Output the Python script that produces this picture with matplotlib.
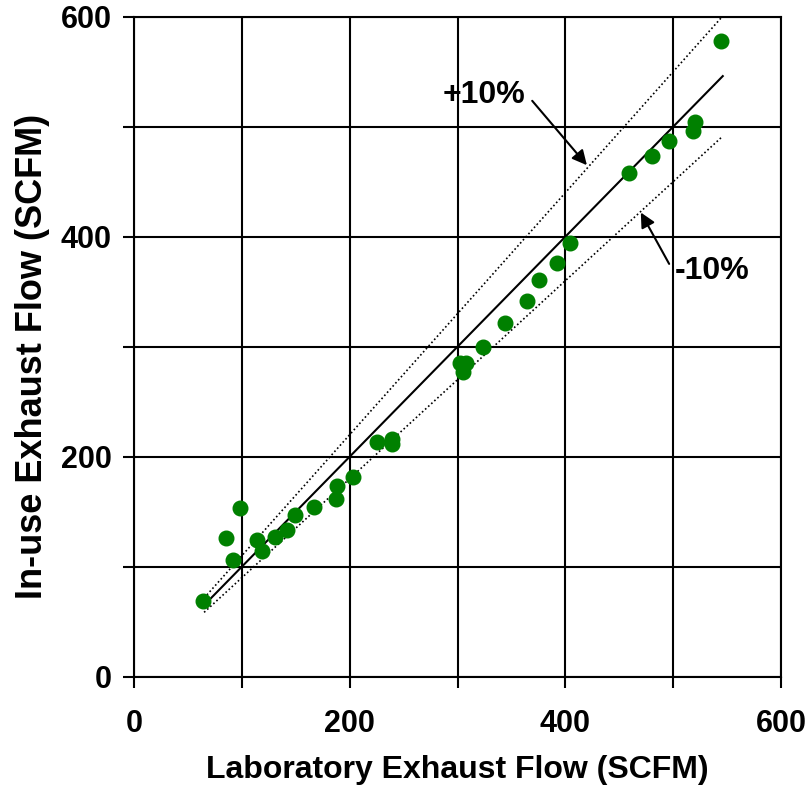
import matplotlib
matplotlib.use("Agg")
import matplotlib.pyplot as plt
import numpy as np

plt.rcParams['font.family'] = ['Liberation Sans', 'DejaVu Sans']
plt.rcParams['font.weight'] = 'bold'

lab_flow = [64, 85, 98, 92, 114, 119, 131, 142, 149, 167, 187, 188, 203, 225, 239, 239,
            302, 305, 308, 324, 344, 364, 376, 392, 404,
            459, 480, 496, 518, 520, 544]
inuse_flow = [69, 126, 153, 106, 124, 114, 127, 133, 147, 154, 162, 173, 182, 213, 216, 212,
              285, 277, 285, 300, 322, 342, 361, 376, 394,
              458, 473, 487, 496, 504, 578]

ref_x = [65, 546]
ratio_labels = ["+10%", "-10%"]

fig = plt.figure(figsize=(8.1, 7.86), dpi=100)
ax = fig.add_axes([134/810, (786-676.7)/786, (781-134)/810, (676.7-16.7)/786])

ax.set_xlim(0, 600)
ax.set_ylim(0, 600)
ax.set_xticks([0, 200, 400, 600])
ax.set_yticks([0, 200, 400, 600])
ax.set_xticks([100, 300, 500], minor=True)
ax.set_yticks([100, 300, 500], minor=True)
ax.grid(True, which='both', color='black', linewidth=1.5)
ax.set_axisbelow(True)
ax.tick_params(which='both', direction='out', length=8, width=1.5, labelsize=22)
ax.tick_params(axis='x', which='both', pad=15)
ax.tick_params(axis='y', which='both', pad=8)
for s in ax.spines.values():
    s.set_linewidth(1.5)

rx = np.array(ref_x, dtype=float)
ax.plot(rx, rx, color='black', linewidth=1.5, zorder=3)
ax.plot(rx, rx * 1.1, color='black', linewidth=1.2, linestyle=(0, (1, 1.5)), zorder=3)
ax.plot(rx, rx * 0.9, color='black', linewidth=1.2, linestyle=(0, (1, 1.5)), zorder=3)

ax.plot(lab_flow, inuse_flow, 'o', color='#008000', markersize=10.5, zorder=4, clip_on=False)

ax.annotate(ratio_labels[0], xy=(420, 465), xytext=(325, 529),
            fontsize=23, fontweight='bold', ha='center', va='center',
            arrowprops=dict(arrowstyle='-|>', color='black', lw=1.5,
                            mutation_scale=22, shrinkA=4, shrinkB=0,
                            relpos=(1.0, 0.55)), zorder=5)
ax.annotate(ratio_labels[1], xy=(470, 422), xytext=(536, 369),
            fontsize=23, fontweight='bold', ha='center', va='center',
            arrowprops=dict(arrowstyle='-|>', color='black', lw=1.5,
                            mutation_scale=22, shrinkA=4, shrinkB=0,
                            relpos=(0.0, 0.4)), zorder=5)

ax.set_xlabel("Laboratory Exhaust Flow (SCFM)", fontsize=23, fontweight='bold')
ax.set_ylabel("In-use Exhaust Flow (SCFM)", fontsize=26, fontweight='bold')
ax.xaxis.set_label_coords(0.5, -0.118)
ax.yaxis.set_label_coords(-0.13, 0.486)

fig.savefig("out.png", dpi=100)
